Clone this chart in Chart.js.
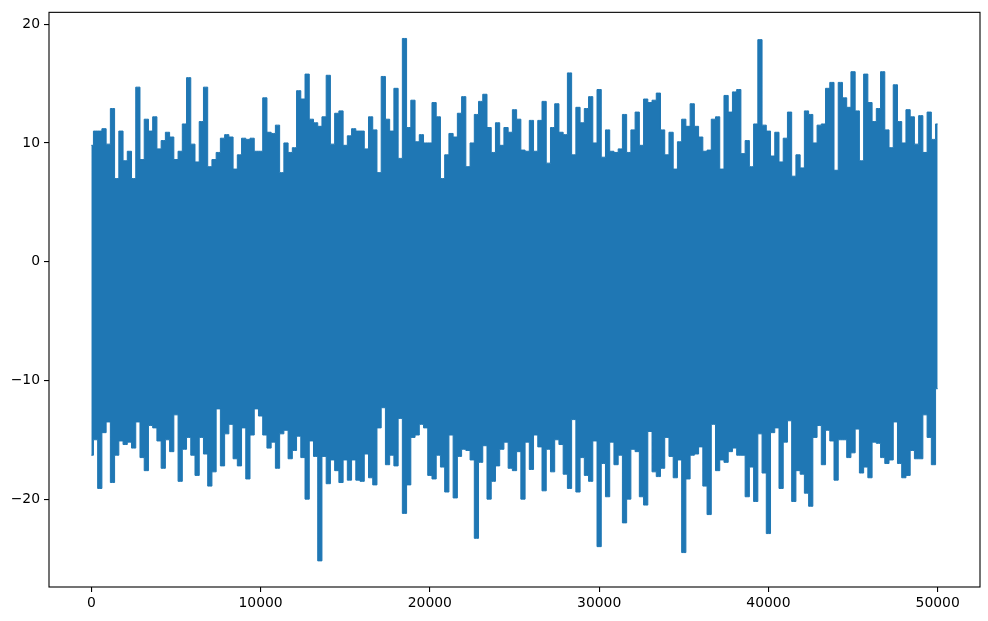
<!DOCTYPE html>
<html>
<head>
<meta charset="utf-8">
<script src="https://cdn.jsdelivr.net/npm/chart.js@4.4.1/dist/chart.umd.min.js"></script>
<style>
  body { margin: 0; background: #fff; }
  #wrap { width: 988px; height: 621px; }
</style>
</head>
<body>
<div id="wrap"><canvas id="myChart" width="988" height="621"></canvas></div>
<script>
// series: highest and lowest value in every 250-sample bin
var binWidth = 250;
var highs = [
	9.8, 11.0, 11.0, 11.2, 9.9, 12.9, 7.0, 11.0, 8.5, 9.3,
	7.0, 14.7, 8.6, 12.0, 11.0, 12.2, 9.5, 10.2, 10.9, 10.5,
	8.6, 9.3, 11.6, 15.5, 9.9, 8.4, 11.8, 14.7, 8.0, 8.6,
	9.2, 10.4, 10.7, 10.5, 7.8, 9.0, 10.4, 10.3, 10.4, 9.3,
	9.3, 13.8, 10.9, 10.8, 11.5, 7.5, 10.0, 9.2, 9.6, 14.4,
	13.7, 15.8, 12.0, 11.7, 11.4, 12.2, 15.7, 9.9, 12.5, 12.7,
	9.8, 10.6, 11.2, 11.0, 11.0, 9.5, 12.2, 11.1, 7.5, 15.6,
	12.0, 11.0, 14.6, 8.7, 18.8, 11.3, 13.6, 10.1, 10.7, 10.0,
	10.0, 13.4, 12.2, 7.0, 9.0, 10.8, 10.5, 12.5, 13.9, 8.0,
	10.0, 12.4, 13.5, 14.1, 11.3, 9.2, 11.7, 9.8, 11.3, 10.9,
	12.8, 12.0, 9.4, 9.3, 11.9, 9.3, 11.9, 13.5, 8.3, 11.3,
	13.3, 10.9, 10.7, 15.9, 9.0, 13.0, 11.7, 12.9, 13.9, 10.0,
	14.5, 8.8, 11.1, 9.3, 9.2, 9.5, 12.4, 9.2, 11.1, 12.6,
	9.8, 13.7, 13.4, 13.6, 14.2, 11.1, 9.0, 10.9, 7.8, 10.1,
	12.0, 11.4, 13.3, 11.4, 10.5, 9.3, 9.4, 12.0, 12.2, 7.8,
	14.0, 12.6, 14.3, 14.5, 9.1, 10.2, 8.0, 11.6, 18.7, 11.5,
	11.0, 8.9, 10.9, 8.4, 10.4, 12.6, 7.2, 9.0, 7.9, 12.7,
	12.4, 10.0, 11.5, 11.6, 14.6, 15.1, 7.7, 15.1, 13.8, 13.0,
	16.0, 12.7, 8.5, 15.8, 13.4, 11.8, 12.9, 16.0, 11.1, 9.6,
	14.9, 11.8, 10.0, 12.8, 12.2, 9.9, 12.3, 9.2, 12.6, 10.3,
	11.6
];
var lows = [
	-16.3, -15.0, -19.1, -14.4, -13.5, -18.6, -16.3, -15.1, -15.4, -15.2,
	-15.7, -13.5, -16.5, -17.6, -13.8, -14.0, -15.1, -17.4, -15.0, -16.0,
	-12.9, -18.5, -15.8, -14.8, -16.3, -18.0, -14.8, -16.2, -18.9, -17.7,
	-12.4, -17.2, -14.5, -13.7, -16.6, -17.2, -14.0, -18.3, -14.6, -12.4,
	-13.0, -14.6, -15.7, -15.2, -17.4, -14.5, -14.2, -16.6, -15.9, -14.7,
	-16.5, -20.0, -15.1, -16.4, -25.2, -16.4, -18.7, -16.7, -17.6, -18.6,
	-16.7, -18.4, -16.7, -18.4, -18.5, -16.2, -18.2, -18.8, -14.0, -12.3,
	-17.1, -16.3, -17.2, -13.2, -21.2, -18.8, -14.8, -14.6, -13.7, -14.0,
	-18.0, -18.3, -16.3, -17.3, -19.4, -14.6, -19.9, -16.4, -15.8, -15.9,
	-16.7, -23.3, -16.9, -15.5, -20.0, -18.5, -17.2, -15.8, -15.2, -17.4,
	-17.6, -16.0, -20.0, -15.2, -17.5, -14.6, -15.6, -19.3, -15.8, -17.7,
	-15.0, -15.4, -17.9, -19.1, -13.3, -19.4, -16.5, -18.0, -18.5, -15.1,
	-24.0, -17.0, -19.8, -15.2, -17.1, -16.3, -22.0, -20.0, -15.8, -16.0,
	-19.8, -20.5, -14.3, -17.7, -18.1, -17.4, -14.8, -16.4, -18.2, -16.7,
	-24.5, -18.3, -16.3, -16.2, -15.6, -18.9, -21.3, -13.7, -17.6, -16.7,
	-16.9, -16.0, -15.7, -16.3, -16.3, -19.8, -17.3, -20.2, -14.5, -17.8,
	-22.9, -14.4, -14.0, -19.1, -15.2, -13.4, -20.2, -17.6, -17.9, -19.5,
	-20.6, -14.8, -13.8, -17.1, -14.2, -15.1, -18.4, -15.0, -15.0, -16.5,
	-16.1, -14.1, -17.8, -17.3, -18.2, -15.2, -15.3, -16.5, -17.0, -16.7,
	-13.5, -17.0, -18.2, -18.0, -15.9, -16.6, -16.6, -12.9, -14.8, -17.1,
	-10.7
];
var xTicks = [0, 10000, 20000, 30000, 40000, 50000];
var yTicks = [-20, -10, 0, 10, 20];

var blue = '#1f77b4';
var tickFont = { family: 'DejaVu Sans', size: 13.9 };

function toPoints(arr) {
	return arr.map(function (v, i) { return { x: i * binWidth, y: v }; });
}

function fmt(v) {
	return v < 0 ? '\u2212' + Math.abs(v) : String(v);
}

// matplotlib draws a box on all four sides
var frame = {
	id: 'frame',
	afterDraw: function (chart) {
		var a = chart.chartArea, c = chart.ctx;
		c.save();
		c.strokeStyle = '#000';
		c.lineWidth = 1.1;
		c.strokeRect(a.left, a.top, a.right - a.left, a.bottom - a.top);
		c.restore();
	}
};

var ctx = document.getElementById('myChart');
var myChart = new Chart(ctx, {
	type: 'line',
	data: {
		datasets: [{
			data: toPoints(highs),
			borderColor: blue,
			borderWidth: 1,
			stepped: 'middle',
			pointRadius: 0,
			fill: false
		},
		{
			data: toPoints(lows),
			borderColor: blue,
			backgroundColor: blue,
			borderWidth: 1,
			stepped: 'middle',
			pointRadius: 0,
			fill: '-1'
		}]
	},
	options: {
		responsive: false,
		animation: false,
		layout: { padding: { left: 0, right: 8, top: 10, bottom: 0 } },
		plugins: {
			legend: { display: false },
			tooltip: { enabled: false }
		},
		scales: {
			x: {
				type: 'linear',
				min: -2500,
				max: 52500,
				afterBuildTicks: function (axis) {
					axis.ticks = xTicks.map(function (v) { return { value: v }; });
				},
				afterFit: function (scale) { scale.height = 34; },
				grid: { drawOnChartArea: false, drawTicks: true, tickLength: 5, color: '#000', lineWidth: 1.1 },
				border: { display: false },
				ticks: { font: tickFont, color: '#000', padding: 3, maxRotation: 0, callback: fmt }
			},
			y: {
				type: 'linear',
				min: -27.4,
				max: 21.0,
				afterBuildTicks: function (axis) {
					axis.ticks = yTicks.map(function (v) { return { value: v }; });
				},
				afterFit: function (scale) { scale.width = 49; },
				grid: { drawOnChartArea: false, drawTicks: true, tickLength: 5, color: '#000', lineWidth: 1.1 },
				border: { display: false },
				ticks: { font: tickFont, color: '#000', padding: 4, callback: fmt }
			}
		}
	},
	plugins: [frame]
});
</script>
</body>
</html>
